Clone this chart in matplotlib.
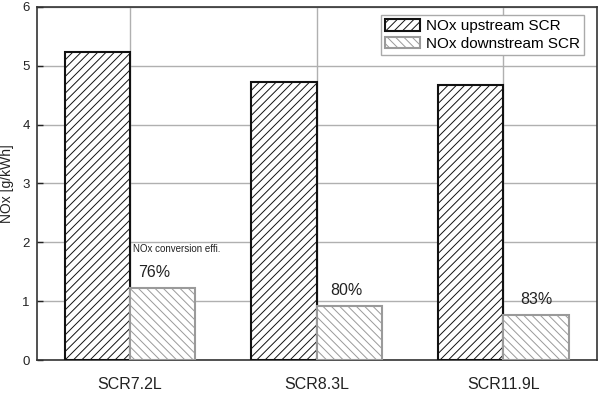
import matplotlib
matplotlib.use("Agg")
import matplotlib.pyplot as plt
import numpy as np

categories = ["SCR7.2L", "SCR8.3L", "SCR11.9L"]
upstream = [5.23, 4.73, 4.67]
downstream = [1.23, 0.91, 0.76]
efficiency = ["76%", "80%", "83%"]
series_names = ["NOx upstream SCR", "NOx downstream SCR"]
y_ticks = [0, 1, 2, 3, 4, 5, 6]

plt.rcParams['font.family'] = ['Liberation Sans', 'DejaVu Sans']
plt.rcParams['hatch.linewidth'] = 0.7

fig = plt.figure(figsize=(6.04, 3.96), dpi=100)
ax = fig.add_axes([0.0608, 0.0909, 0.927, 0.892])

x = np.arange(len(categories))
w = 0.35
ax.bar(x - w / 2, upstream, w, facecolor='white', edgecolor='#111111',
       hatch='////', linewidth=1.5, label=series_names[0], zorder=3)
ax.bar(x + w / 2, downstream, w, facecolor='white', edgecolor='#9a9a9a',
       hatch='\\\\\\\\', linewidth=1.5, label=series_names[1], zorder=3)

offsets = [-9, -3, 0]
for i, (v, t) in enumerate(zip(downstream, efficiency)):
    ax.annotate(t, (x[i] + w / 2, v), xytext=(offsets[i], 8),
                textcoords='offset pixels', ha='center', va='bottom',
                fontsize=11.5, color='#222222', zorder=4)

ax.text(x[0] + 0.015, 1.80, "NOx conversion effi.", fontsize=7,
        color='#222222', ha='left', va='bottom', zorder=4)

ax.set_xlim(-0.5, 2.5)
ax.set_ylim(0, 6)
ax.set_xticks(x)
ax.set_xticklabels(categories, fontsize=11.5, color='#222222')
ax.set_yticks(y_ticks)
ax.tick_params(axis='y', direction='in', length=4, width=1, pad=5,
               labelsize=9.5, colors='#222222')
ax.tick_params(axis='x', length=0, pad=12)
ax.set_ylabel("NOx [g/kWh]", fontsize=10, color='#222222', labelpad=6)

ax.grid(True, color='#b0b0b0', linewidth=1.0, zorder=0)
ax.set_axisbelow(True)
for s in ax.spines.values():
    s.set_color('#333333')
    s.set_linewidth(1.2)

leg = ax.legend(loc='upper right', bbox_to_anchor=(584 / 604, 1 - 15 / 396),
                bbox_transform=fig.transFigure, borderaxespad=0,
                fontsize=11, fancybox=False, framealpha=1,
                edgecolor='#aaaaaa', handlelength=2.3, handleheight=0.8,
                handletextpad=0.4, labelspacing=0.25, borderpad=0.25)
leg.get_frame().set_linewidth(1.0)

fig.savefig("out.png", dpi=100)
